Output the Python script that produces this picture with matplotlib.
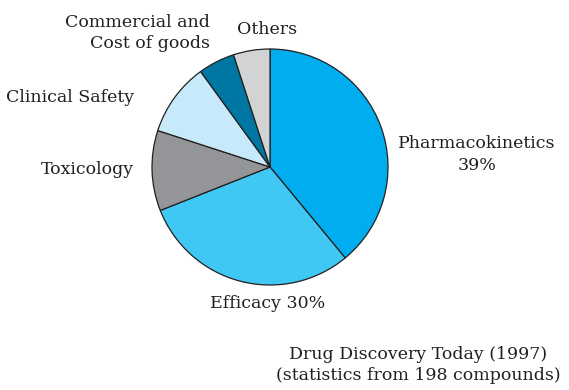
import matplotlib.pyplot as plt

# reasons for failure in drug development (share of compounds, %)
categories = ["Pharmacokinetics", "Efficacy", "Toxicology", "Clinical Safety",
              "Commercial and\nCost of goods", "Others"]
shares = [39, 30, 11, 10, 5, 5]
colors = ["#00aeef", "#40c8f4", "#939598", "#c7eafb", "#0076a3", "#d1d3d4"]

plt.rcParams["font.family"] = ["DejaVu Serif"]

W, H = 569, 390
fig = plt.figure(figsize=(W / 100, H / 100), dpi=100)
ax = fig.add_axes([0, 0, 1, 1])

ax.pie(shares, colors=colors, startangle=90, counterclock=False,
       center=(270, H - 167), radius=118, frame=True,
       wedgeprops=dict(edgecolor="#231f20", linewidth=0.9))
ax.set_xlim(0, W)
ax.set_ylim(0, H)
ax.set_aspect("equal")
ax.axis("off")

fs = 12.5
txt = dict(fontsize=fs, color="#231f20", va="center")
ax.text(477, H - 143, f"{categories[0]}", ha="center", **txt)
ax.text(477, H - 165, f"{shares[0]}%", ha="center", **txt)
ax.text(268, H - 304, f"{categories[1]} {shares[1]}%", ha="center", **txt)
ax.text(134, H - 170, categories[2], ha="right", **txt)
ax.text(134, H - 97, categories[3], ha="right", **txt)
ax.text(210, H - 33, categories[4], ha="right", linespacing=1.3, **txt)
ax.text(267, H - 30, categories[5], ha="center", **txt)

ax.text(418, H - 365, "Drug Discovery Today (1997)\n(statistics from 198 compounds)",
        ha="center", linespacing=1.3, **txt)

fig.savefig("out.png", dpi=100)
